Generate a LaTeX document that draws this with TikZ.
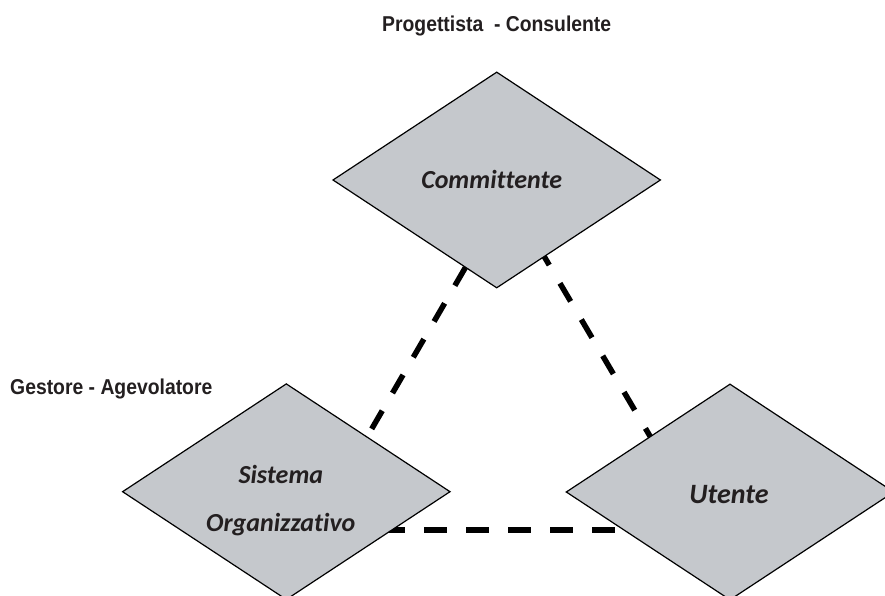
\documentclass[tikz,border=0pt]{standalone}
\usepackage{fontspec}
\setmainfont{Liberation Sans}
\newfontfamily\labfont[FakeStretch=0.9]{Liberation Sans}
\newfontfamily\dfont[Ligatures=NoCommon]{Carlito}
\usetikzlibrary{shapes.geometric,backgrounds}
\definecolor{dfill}{RGB}{197,200,204}
\definecolor{txt}{RGB}{35,31,32}
\begin{document}
\begin{tikzpicture}[x=1pt,y=1pt,
  dia/.style={draw=black, line width=1.2pt, fill=dfill, shape=diamond,
    minimum width=327.4pt, minimum height=215.6pt, inner sep=0pt, outer sep=0pt},
  dlab/.style={font=\dfont\bfseries\itshape\fontsize{26}{31}\selectfont, text=txt, inner sep=0pt},
  role/.style={font=\labfont\bfseries\fontsize{21.5}{26}\selectfont, text=txt, inner sep=0pt},
  link/.style={line width=5.5pt}]
\useasboundingbox (0,0) rectangle (885,596);
\clip (0,0) rectangle (885,596);
% diamonds
\node[dia] (comm) at (496.7,416) {};
\node[dia] (sist) at (286.3,104.3) {};
\node[dia] (uten) at (730,104) {};
% texts in diamonds
\node[dlab, anchor=base] (commT) at (491.7,407.7) {Committente};
\node[dlab, anchor=base] (sistT1) at (280.8,112.7) {Sistema};
\node[dlab, anchor=base] (sistT2) at (280.8,64.3) {Organizzativo};
\node[dlab, anchor=base, font=\dfont\bfseries\itshape\fontsize{28}{33}\selectfont] (utenT) at (729,92.7) {Utente};
% role labels
\node[role, anchor=base] (prog) at (496.7,564.3) {Progettista~~- Consulente};
\node[role, anchor=base west] (gest) at (10,201) {Gestore - Agevolatore};
% dashed connectors behind the diamonds
\begin{pgfonlayer}{background}
\draw[link, dash pattern=on 21pt off 20.4pt]
  ([shift={(-31.3pt,-87.5pt)}]comm.center) -- ([shift={(80.7pt,54.7pt)}]sist.center);
\draw[link, dash pattern=on 21pt off 21.1pt]
  ([shift={(41.9pt,-67pt)}]comm.center) -- ([shift={(-79.5pt,55pt)}]uten.center);
\draw[link, dash pattern=on 23.3pt off 18.7pt]
  ([shift={(95.7pt,-38.3pt)}]sist.center) -- ([shift={(-114.7pt,-38pt)}]uten.center);
\end{pgfonlayer}
\end{tikzpicture}
\end{document}
